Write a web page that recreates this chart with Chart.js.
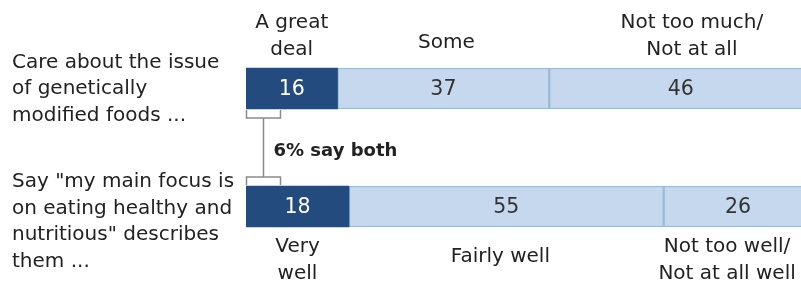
<!DOCTYPE html>
<html><head><meta charset="utf-8">
<script src="https://cdn.jsdelivr.net/npm/chart.js@4.4.1/dist/chart.umd.min.js"></script>
<style>html,body{margin:0;padding:0;background:#fff}#wrap{width:801px;height:287px;position:relative}</style>
</head><body><div id="wrap"><canvas id="c" width="801" height="287"></canvas></div>
<script>
const rows = ['gmo', 'health'];
const rowLabels = [
  ["Care about the issue", "of genetically", "modified foods ..."],
  ["Say \"my main focus is", "on eating healthy and", "nutritious\" describes", "them ..."]
];
const firstValues = [16, 18];
const secondValues = [37, 55];
const thirdValues = [46, 26];
const topCats = [["A great", "deal"], ["Some"], ["Not too much/", "Not at all"]];
const bottomCats = [["Very", "well"], ["Fairly well"], ["Not too well/", "Not at all well"]];
const bothLabel = "6% say both";

const FONT = '"DejaVu Sans", sans-serif';
const DARK = '#234b7d';
const LIGHT = '#c6d8ee';
const LIGHT_BORDER = '#9dbad6';
const TEXT = '#222222';

const annot = {
  id: 'annot',
  afterDatasetsDraw(chart) {
    const ctx = chart.ctx;
    const xs = chart.scales.x, ys = chart.scales.y;
    const series = [firstValues, secondValues, thirdValues];
    const half = 20.5;
    ctx.save();
    ctx.textBaseline = 'middle';
    // value labels
    ctx.font = '20.5px ' + FONT;
    ctx.textAlign = 'center';
    for (let j = 0; j < rows.length; j++) {
      let start = 0;
      for (let i = 0; i < series.length; i++) {
        const v = series[i][j];
        const x = xs.getPixelForValue(start + v / 2);
        const y = ys.getPixelForValue(j);
        ctx.fillStyle = i === 0 ? '#ffffff' : '#333333';
        ctx.fillText(String(v), x, y + 1);
        start += v;
      }
    }
    // row labels
    ctx.font = '20px ' + FONT;
    ctx.fillStyle = TEXT;
    ctx.textAlign = 'left';
    const rowStart = [-26, -24.5];
    for (let j = 0; j < rows.length; j++) {
      const yc = ys.getPixelForValue(j);
      rowLabels[j].forEach((t, k) => ctx.fillText(t, 12, yc + rowStart[j] + k * 26.5));
    }
    // category labels
    ctx.font = '20px ' + FONT;
    ctx.textAlign = 'center';
    const segCenter = (j, i) => {
      let s = 0;
      for (let k = 0; k < i; k++) s += series[k][j];
      return xs.getPixelForValue(s + series[i][j] / 2);
    };
    const topBar = ys.getPixelForValue(0) - half;
    const topOff = [0, 3, 11];
    topCats.forEach((lines, i) => {
      const x = segCenter(0, i) + topOff[i];
      if (lines.length === 1) ctx.fillText(lines[0], x, topBar - 25);
      else lines.forEach((t, k) => ctx.fillText(t, x, topBar - 45 + k * 27));
    });
    const botBar = ys.getPixelForValue(1) + half;
    const botOff = [0, -6, -11];
    bottomCats.forEach((lines, i) => {
      const x = segCenter(1, i) + botOff[i];
      if (lines.length === 1) ctx.fillText(lines[0], x, botBar + 30);
      else lines.forEach((t, k) => ctx.fillText(t, x, botBar + 20 + k * 26.5));
    });
    // bracket
    const x0 = xs.getPixelForValue(0) + 0.5;
    const x1 = x0 + 34;
    const xm = (x0 + x1) / 2;
    const b0 = ys.getPixelForValue(0) + half;
    const b1 = ys.getPixelForValue(1) - half;
    ctx.strokeStyle = '#8a8a8a';
    ctx.lineWidth = 1.5;
    ctx.beginPath();
    ctx.moveTo(x0, b0 + 1); ctx.lineTo(x0, b0 + 9); ctx.lineTo(x1, b0 + 9); ctx.lineTo(x1, b0 + 1);
    ctx.moveTo(xm, b0 + 9); ctx.lineTo(xm, b1 - 9);
    ctx.moveTo(x0, b1 - 1); ctx.lineTo(x0, b1 - 9); ctx.lineTo(x1, b1 - 9); ctx.lineTo(x1, b1 - 1);
    ctx.stroke();
    ctx.fillStyle = TEXT;
    ctx.textAlign = 'left';
    ctx.font = 'bold 18px ' + FONT;
    ctx.fillText(bothLabel, x1 - 7, (b0 + b1) / 2 + 4);
    ctx.restore();
  }
};

new Chart(document.getElementById('c'), {
  type: 'bar',
  data: {
    labels: rows,
    datasets: [
      { data: firstValues, backgroundColor: DARK, borderColor: DARK, borderWidth: 0 },
      { data: secondValues, backgroundColor: LIGHT, borderColor: LIGHT_BORDER, borderWidth: 1.5 },
      { data: thirdValues, backgroundColor: LIGHT, borderColor: LIGHT_BORDER, borderWidth: 1.5 }
    ]
  },
  options: {
    responsive: false,
    animation: false,
    indexAxis: 'y',
    devicePixelRatio: 1,
    layout: { padding: { left: 246, right: 0, top: 29.5, bottom: 21.5 } },
    datasets: { bar: { barThickness: 41, borderSkipped: false } },
    scales: {
      x: { stacked: true, min: 0, max: 97, display: false },
      y: { stacked: true, display: false }
    },
    plugins: { legend: { display: false }, tooltip: { enabled: false } }
  },
  plugins: [annot]
});
</script>
</body></html>
